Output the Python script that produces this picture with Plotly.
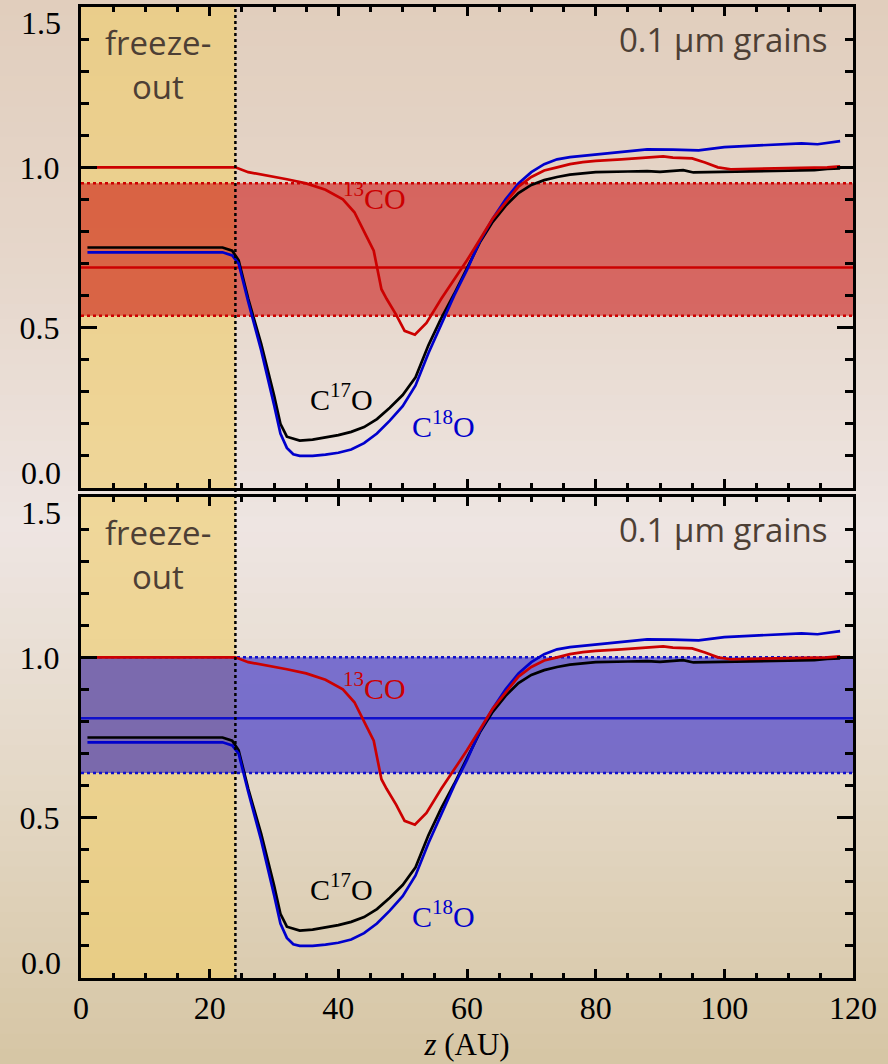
import plotly.graph_objects as go

# ---------------- data ----------------
z_c17o = [1, 22, 23.5, 24.5, 26, 28, 30, 31, 32, 34, 36, 38, 40, 42, 44, 46, 48, 50, 52, 54, 56,
          58, 60, 62, 64, 66, 68, 70, 72, 74, 76, 78, 80, 85, 88, 90, 92, 93.6, 95.2, 98, 100,
          105, 110, 114, 116, 118]
c17o = [0.75, 0.75, 0.74, 0.71, 0.59, 0.45, 0.29, 0.20, 0.16, 0.148, 0.151, 0.157, 0.165, 0.175,
        0.19, 0.215, 0.25, 0.29, 0.345, 0.445, 0.53, 0.605, 0.685, 0.766, 0.83, 0.88, 0.92, 0.945,
        0.96, 0.97, 0.977, 0.981, 0.985, 0.987, 0.988, 0.986, 0.99, 0.991, 0.984, 0.985, 0.988,
        0.988, 0.99, 0.991, 0.995, 0.997]

z_c18o = [1, 22, 23.5, 24.5, 26, 28, 30, 31, 32, 33, 34, 36, 38, 40, 42, 44, 46, 48, 50, 52, 54,
          56, 58, 60, 62, 64, 66, 68, 70, 72, 74, 76, 78, 80, 84, 88, 92, 96, 100, 104, 108, 112,
          114.5, 116, 118]
c18o = [0.735, 0.735, 0.725, 0.70, 0.58, 0.43, 0.26, 0.17, 0.125, 0.105, 0.10, 0.10, 0.104, 0.11,
        0.12, 0.14, 0.17, 0.21, 0.255, 0.32, 0.42, 0.51, 0.60, 0.68, 0.77, 0.84, 0.90, 0.95, 0.985,
        1.01, 1.025, 1.032, 1.036, 1.042, 1.048, 1.056, 1.055, 1.053, 1.063, 1.067, 1.072, 1.075,
        1.072, 1.077, 1.082]

z_13co = [1, 22, 24, 26, 28, 30, 32, 35, 38, 40.7, 42.5, 44.4, 45.5, 46, 46.7, 47.5, 49, 50.3,
          51.9, 53.7, 56, 58, 60, 62, 64, 66, 68, 70, 72, 74, 76, 78, 80, 84, 88, 90.5, 92, 95,
          97, 99, 101, 105, 110, 114, 116, 118]
co13 = [1.0, 1.0, 1.0, 0.985, 0.978, 0.97, 0.963, 0.95, 0.93, 0.90, 0.86, 0.784, 0.74, 0.69, 0.62,
        0.59, 0.54, 0.49, 0.478, 0.515, 0.59, 0.65, 0.71, 0.775, 0.84, 0.89, 0.94, 0.97, 0.99, 1.0,
        1.01, 1.016, 1.02, 1.025, 1.03, 1.034, 1.03, 1.028, 1.015, 1.0, 0.994, 0.995, 0.997, 0.999,
        1.0, 1.003]

freeze_z = 24.0
band_top = dict(lo=0.5375, mid=0.6875, hi=0.95)     # 13CO band (top panel)
band_bot = dict(lo=0.639, mid=0.81, hi=1.0)         # C18O band (bottom panel)
panel_text = "0.1 μm grains"
freeze_lines = [("freeze-", 1.39), ("out", 1.252)]
y_tickvals = [0.0, 0.5, 1.0, 1.5]
y_ticktext = ["", "0.5", "1.0", ""]
y_edge_labels = [("0.0", 0.0, 15), ("1.5", 1.5, -16)]

# ---------------- figure ----------------
W, H = 888, 1064
ML, MR, MT, MB = 81, 35, 7, 86
PW, PH = W - ML - MR, H - MT - MB

def py(p):  # pixel y -> paper y
    return (H - MB - p) / PH

def px(p):
    return (p - ML) / PW

fig = go.Figure()

# background gradient strips
stops = [(0, (225, 206, 189)), (270, (230, 215, 203)), (530, (238, 229, 226)),
         (800, (227, 215, 196)), (1064, (214, 198, 164))]
shapes = []
N = 70
for i in range(N):
    p0 = H * i / N
    p1 = H * (i + 1) / N + 1
    pm = (p0 + p1) / 2
    for j in range(len(stops) - 1):
        if stops[j][0] <= pm <= stops[j + 1][0]:
            t = (pm - stops[j][0]) / (stops[j + 1][0] - stops[j][0])
            c = [round(stops[j][1][k] + t * (stops[j + 1][1][k] - stops[j][1][k])) for k in range(3)]
            break
    shapes.append(dict(type="rect", xref="paper", yref="paper", x0=px(-5), x1=px(W + 5),
                       y0=py(p1), y1=py(p0), fillcolor=f"rgb({c[0]},{c[1]},{c[2]})",
                       line=dict(width=0), layer="below"))

for xa, ya, band, bcol, bfill in [("x", "y", band_top, "#cc0000", "rgba(200,0,0,0.52)"),
                                  ("x2", "y2", band_bot, "#1010cc", "rgba(20,10,200,0.52)")]:
    shapes.append(dict(type="rect", xref=xa, yref=ya + " domain", x0=0, x1=freeze_z, y0=0, y1=1,
                       fillcolor="rgba(240,205,105,0.6)", line=dict(width=0), layer="below"))
    shapes.append(dict(type="rect", xref=xa, yref=ya, x0=0, x1=120, y0=band["lo"], y1=band["hi"],
                       fillcolor=bfill, line=dict(width=0), layer="below"))
    for key, dash in [("lo", "dot"), ("hi", "dot"), ("mid", "solid")]:
        shapes.append(dict(type="line", xref=xa, yref=ya, x0=0, x1=120, y0=band[key], y1=band[key],
                           line=dict(color=bcol, width=2.5, dash=dash), layer="below"))

shapes.append(dict(type="line", xref="x", yref="paper", x0=freeze_z, x1=freeze_z, y0=0, y1=1,
                   line=dict(color="black", width=2.5, dash="dot"), layer="above"))

for xa, ya in [("x", "y"), ("x2", "y2")]:
    fig.add_trace(go.Scatter(x=z_c17o, y=c17o, xaxis=xa, yaxis=ya, mode="lines",
                             line=dict(color="black", width=2.7), showlegend=False))
    fig.add_trace(go.Scatter(x=z_c18o, y=c18o, xaxis=xa, yaxis=ya, mode="lines",
                             line=dict(color="#0000cc", width=2.7), showlegend=False))
    fig.add_trace(go.Scatter(x=z_13co, y=co13, xaxis=xa, yaxis=ya, mode="lines",
                             line=dict(color="#cc0000", width=2.7), showlegend=False))

serif = "Liberation Serif"
sans = "Open Sans"
txt = "#4d3f35"
annotations = []
for xa, ya in [("x", "y"), ("x2", "y2")]:
    for word, yv in freeze_lines:
        annotations.append(dict(x=12, y=yv, xref=xa, yref=ya, text=word, showarrow=False,
                                xanchor="center", yanchor="middle",
                                font=dict(family=sans, size=33, color=txt)))
    annotations += [
        dict(x=116.5, y=1.5, xref=xa, yref=ya, text=panel_text, showarrow=False, yshift=-8,
             xanchor="right", yanchor="top", font=dict(family=sans, size=33, color=txt)),
        dict(x=45.6, y=0.91, xref=xa, yref=ya, text="<sup>13</sup>CO", showarrow=False,
             font=dict(family=serif, size=30, color="#cc0000")),
        dict(x=40.5, y=0.285, xref=xa, yref=ya, text="C<sup>17</sup>O", showarrow=False,
             font=dict(family=serif, size=30, color="black")),
        dict(x=56.4, y=0.20, xref=xa, yref=ya, text="C<sup>18</sup>O", showarrow=False,
             font=dict(family=serif, size=30, color="#0000cc")),
    ]
    for lab, val, shift in y_edge_labels:
        annotations.append(dict(x=px(63), y=val, xref="paper", yref=ya, text=lab, showarrow=False,
                                xanchor="right", yanchor="middle", yshift=shift,
                                font=dict(family=serif, size=32, color="black")))

axis_common = dict(showline=True, linecolor="black", linewidth=3, mirror="allticks",
                   ticks="inside", tickcolor="black", tickwidth=2.5, showgrid=False,
                   zeroline=False, automargin=False,
                   tickfont=dict(family=serif, size=32, color="black"))
xaxis_base = dict(axis_common, range=[0, 120], dtick=20, tick0=0, ticklen=9,
                  minor=dict(ticks="inside", dtick=5, ticklen=5, tickwidth=2.5,
                             tickcolor="black", showgrid=False))
yaxis_base = dict(axis_common, range=[0, 1.5], tickvals=y_tickvals, ticktext=y_ticktext,
                  ticklen=16, ticklabelstandoff=12,
                  minor=dict(ticks="inside", dtick=0.1, ticklen=8, tickwidth=2.5,
                             tickcolor="black", showgrid=False))

gap = 9 / PH
half = (1 - gap) / 2
fig.update_layout(
    width=W, height=H,
    margin=dict(l=ML, r=MR, t=MT, b=MB),
    paper_bgcolor="#e6d8c8", plot_bgcolor="rgba(0,0,0,0)",
    showlegend=False,
    shapes=shapes, annotations=annotations,
    xaxis=dict(xaxis_base, anchor="y", showticklabels=False, domain=[0, 1]),
    yaxis=dict(yaxis_base, anchor="x", domain=[1 - half, 1]),
    xaxis2=dict(xaxis_base, anchor="y2", domain=[0, 1], ticklabelstandoff=0,
                title=dict(text="<i>z</i> (AU)", font=dict(family=serif, size=31, color="black"),
                           standoff=8)),
    yaxis2=dict(yaxis_base, anchor="x2", domain=[0, half]),
)

fig.write_html("out.html", config={"displayModeBar": False},
               post_script="document.body.style.margin='0';")
